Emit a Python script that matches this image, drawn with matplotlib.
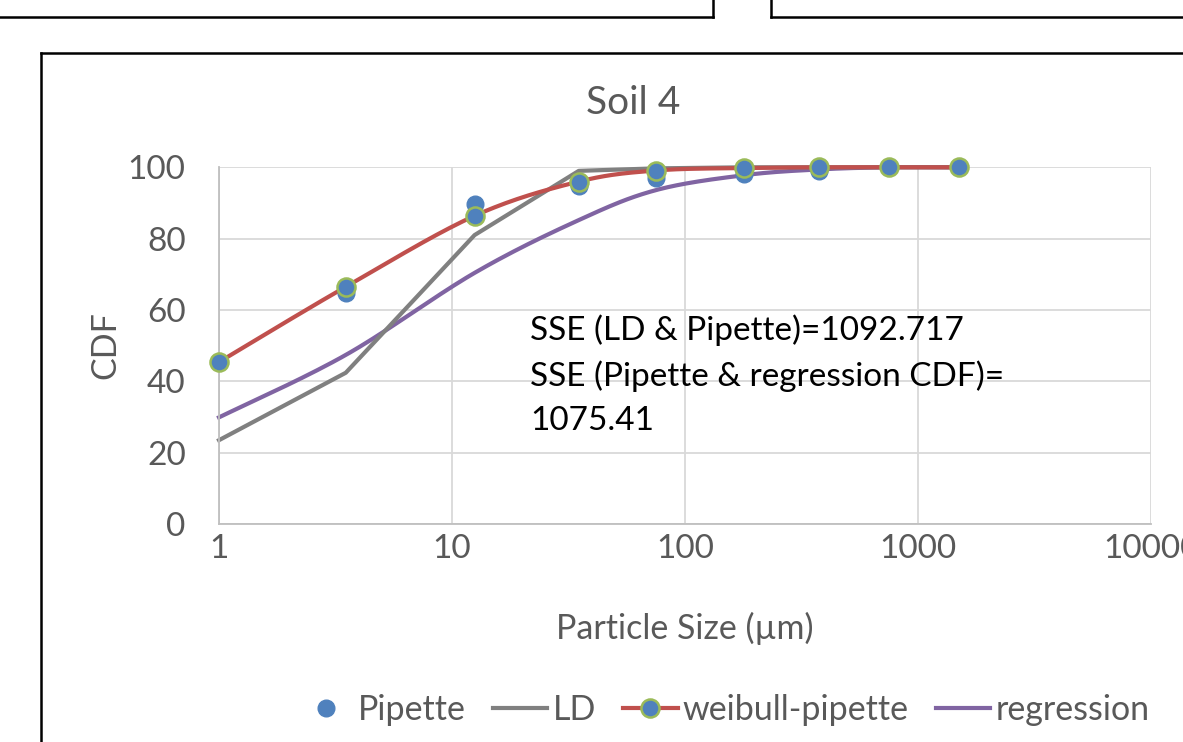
import numpy as np
import matplotlib
matplotlib.use("Agg")
import matplotlib.pyplot as plt
from matplotlib.lines import Line2D

plt.rcParams['font.family'] = ['Lato', 'DejaVu Sans']

# ---- data ----
sizes = [1, 3.5, 12.5, 35, 75, 180, 375, 750, 1500]
pipette = [45.4, 64.7, 89.6, 94.8, 96.9, 98.1, 99.0, 100, 100]
ld = [23.5, 42.4, 81.0, 99.0, 99.7, 100, 100, 100, 100]
weibull = [45.4, 66.5, 86.4, 96.0, 99.1, 99.8, 100, 100, 100]
regression = [29.9, 47.4, 70.4, 85.2, 93.6, 97.8, 99.4, 100, 100]
xticks = [1, 10, 100, 1000, 10000]
yticks = [0, 20, 40, 60, 80, 100]
title = "Soil 4"
note_lines = ["SSE (LD & Pipette)=1092.717", "SSE (Pipette & regression CDF)=", "1075.41"]

BLUE = '#4f81bd'
RED = '#c0504d'
GRAY = '#808080'
PURPLE = '#8064a2'
GREEN = '#9bbb59'
TXT = '#595959'
LW = 3.0


def smooth(xs, ys, n=30):
    """Excel-like smoothed line (Catmull-Rom) in log10-x space."""
    lx = np.log10(np.asarray(xs, float))
    y = np.asarray(ys, float)
    px, py = [], []
    m = len(lx)
    for i in range(m - 1):
        p0 = (lx[max(i - 1, 0)], y[max(i - 1, 0)])
        p1 = (lx[i], y[i])
        p2 = (lx[i + 1], y[i + 1])
        p3 = (lx[min(i + 2, m - 1)], y[min(i + 2, m - 1)])
        c1 = (p1[0] + (p2[0] - p0[0]) / 6, p1[1] + (p2[1] - p0[1]) / 6)
        c2 = (p2[0] - (p3[0] - p1[0]) / 6, p2[1] - (p3[1] - p1[1]) / 6)
        t = np.linspace(0, 1, n)
        bx = (1 - t) ** 3 * p1[0] + 3 * (1 - t) ** 2 * t * c1[0] + 3 * (1 - t) * t ** 2 * c2[0] + t ** 3 * p2[0]
        by = (1 - t) ** 3 * p1[1] + 3 * (1 - t) ** 2 * t * c1[1] + 3 * (1 - t) * t ** 2 * c2[1] + t ** 3 * p2[1]
        px.extend(bx)
        py.extend(by)
    return 10 ** np.array(px), np.array(py)


W, H = 1183, 742
fig = plt.figure(figsize=(W / 100, H / 100), dpi=100)

# surrounding chart boxes (document crop)
def fl(x0, y0, x1, y1):
    fig.add_artist(Line2D([x0 / W, x1 / W], [1 - y0 / H, 1 - y1 / H],
                          color='black', lw=1.8, transform=fig.transFigure))

fl(0, 17, 713, 17)
fl(713, 0, 713, 17)
fl(771, 0, 771, 17)
fl(771, 17, W + 5, 17)
fl(41, 53, W + 5, 53)
fl(41, 53, 41, H + 5)

ax = fig.add_axes([219 / W, 1 - 524 / H, (1151 - 219) / W, (524 - 167.3) / H])
ax.set_xscale('log')
ax.set_xlim(1, 10000)
ax.set_ylim(0, 100)
ax.set_xticks(xticks)
ax.set_xticklabels([str(v) for v in xticks])
ax.set_yticks(yticks)
ax.minorticks_off()
ax.grid(True, color='#d9d9d9', lw=1.3)
ax.set_axisbelow(True)
for s in ['top', 'right']:
    ax.spines[s].set_visible(False)
for s in ['left', 'bottom']:
    ax.spines[s].set_color('#bfbfbf')
    ax.spines[s].set_linewidth(1.3)
ax.tick_params(length=0, labelsize=24, colors=TXT)
ax.tick_params(axis='y', pad=24)
ax.tick_params(axis='x', pad=7)

sx, sy = smooth(sizes, regression)
ax.plot(sx, sy, color=PURPLE, lw=LW, zorder=2, clip_on=False)
ax.plot(sizes, ld, color=GRAY, lw=LW, zorder=2, clip_on=False)
wx, wy = smooth(sizes, weibull)
ax.plot(wx, wy, color=RED, lw=LW, zorder=3, clip_on=False)
ax.plot(sizes, pipette, 'o', color=BLUE, ms=12, mec=BLUE, zorder=4, clip_on=False)
ax.plot(sizes, weibull, 'o', color=BLUE, ms=13, mec=GREEN, mew=1.8, zorder=5, clip_on=False)

fig.text(633 / W, 1 - 103 / H, title, fontsize=28, color=TXT, ha='center', va='center')
fig.text(105 / W, 1 - 345 / H, 'CDF', fontsize=24.5, color=TXT, ha='center', va='center', rotation=90)
fig.text(685 / W, 1 - 628 / H, 'Particle Size (µm)', fontsize=24.5, color=TXT, ha='center', va='center')
for line, yc in zip(note_lines, [331, 377, 421]):
    fig.text(530 / W, 1 - (yc + 9) / H, line, fontsize=24, color='black', ha='left', va='baseline')

handles = [
    Line2D([], [], ls='none', marker='o', color=BLUE, ms=12),
    Line2D([], [], color=GRAY, lw=LW),
    Line2D([], [], color=RED, lw=LW, marker='o', mfc=BLUE, mec=GREEN, ms=13, mew=1.8),
    Line2D([], [], color=PURPLE, lw=LW),
]
labels = ['Pipette', 'LD', 'weibull-pipette', 'regression']
fig.legend(handles, labels, loc='center', bbox_to_anchor=(724 / W, 1 - 710 / H), ncol=4,
           frameon=False, fontsize=24.5, labelcolor=TXT, handlelength=1.6, handletextpad=0.15,
           columnspacing=0.8, borderpad=0, borderaxespad=0)

fig.savefig('out.png', dpi=100)
